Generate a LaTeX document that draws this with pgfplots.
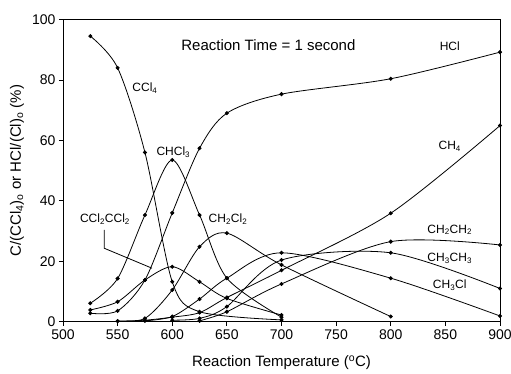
\documentclass[border=0pt]{standalone}
\usepackage{fontspec}
\setmainfont{Liberation Sans}
\usepackage{pgfplots}
\pgfplotsset{compat=1.18}
\begin{document}
\begin{tikzpicture}
\useasboundingbox (-63pt,-51.3pt) rectangle (448pt,302.2pt+19.5pt);
\begin{axis}[
  at={(0pt,0pt)}, anchor=south west,
  scale only axis, width=437pt, height=302.2pt,
  xmin=500, xmax=900, ymin=0, ymax=100,
  xtick={500,550,...,900}, ytick={0,20,...,100},
  tick align=outside, major tick length=4pt,
  tick pos=left,
  axis line style={line width=0.8pt},
  tick style={black, line width=0.8pt},
  ticklabel style={font=\fontsize{14}{16}\selectfont},
  /pgf/number format/assume math mode=true,
  xlabel={Reaction Temperature (\textsuperscript{o}C)},
  ylabel={C/(CCl\textsubscript{4})\textsubscript{o} or HCl/(Cl)\textsubscript{o} (\%)},
  label style={font=\fontsize{15}{17}\selectfont},
  xlabel style={at={(axis description cs:0.5,-0.136)}, anchor=center},
  ylabel style={at={(axis description cs:-0.105,0.5)}, anchor=center},
  sp/.style={black,solid,line width=0.8pt,mark=*,mark size=1.6pt,mark options={solid,fill=black},smooth,tension=0.5},
]
% CCl4
\addplot[sp] coordinates {(525,94.5) (550,84) (575,56) (600,13.2) (625,3.3) (700,0.6)};
% CHCl3
\addplot[sp] coordinates {(525,6.1) (550,14.3) (575,35.3) (600,53.5) (625,35.3) (650,14.4) (700,1.5)};
% CCl2CCl2
\addplot[sp] coordinates {(525,3.9) (550,6.6) (575,13.8) (600,18.2) (625,13.2) (650,7.7) (700,2.2)};
% HCl
\addplot[sp] coordinates {(525,2.8) (550,3.6) (575,13.8) (600,36) (625,57.4) (650,69) (700,75.3) (800,80.4) (900,89.2)};
% CH2Cl2
\addplot[sp] coordinates {(550,0.2) (575,1.1) (600,10.5) (625,24.8) (650,29.3) (700,18.8) (800,1.7)};
% CH4
\addplot[sp] coordinates {(550,0.2) (575,0.5) (600,1.5) (625,3) (650,8) (700,17) (800,35.9) (900,64.9)};
% CH2CH2
\addplot[sp] coordinates {(625,0.3) (650,3.3) (700,12.5) (800,26.5) (900,25.4)};
% CH3CH3
\addplot[sp] coordinates {(600,0.5) (625,1.1) (650,5) (700,20.4) (800,22.8) (900,11)};
% CH3Cl
\addplot[sp] coordinates {(575,0.3) (600,1.7) (625,7.5) (650,14.4) (700,22.8) (800,14.4) (900,1.9)};

\node[font=\fontsize{15}{17}\selectfont] at (axis cs:688,91.5) {Reaction Time = 1 second};
\begin{scope}[every node/.style={font=\fontsize{12}{14}\selectfont}]
\node at (axis cs:854,91) {HCl};
\node at (axis cs:575,77.4) {CCl\textsubscript{4}};
\node at (axis cs:601,56.2) {CHCl\textsubscript{3}};
\node at (axis cs:538.4,33.9) {CCl\textsubscript{2}CCl\textsubscript{2}};
\node at (axis cs:651,33.9) {CH\textsubscript{2}Cl\textsubscript{2}};
\node at (axis cs:854,58) {CH\textsubscript{4}};
\node at (axis cs:854,30.4) {CH\textsubscript{2}CH\textsubscript{2}};
\node at (axis cs:854,21) {CH\textsubscript{3}CH\textsubscript{3}};
\node at (axis cs:854,12.2) {CH\textsubscript{3}Cl};
\end{scope}
\draw[line width=0.8pt] (axis cs:537.8,30.4) -- (axis cs:537.8,24.3) -- (axis cs:581.5,17.7);
\end{axis}
\end{tikzpicture}
\end{document}
